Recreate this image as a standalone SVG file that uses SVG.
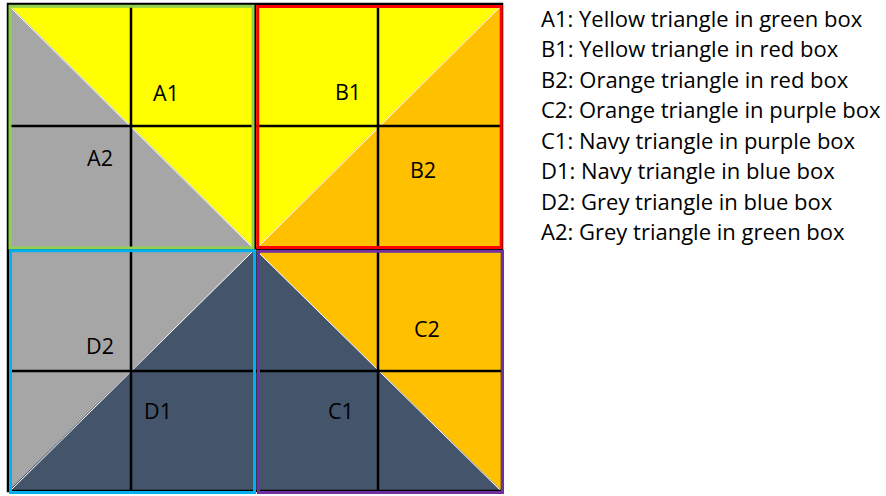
<svg xmlns="http://www.w3.org/2000/svg" width="886" height="496" viewBox="0 0 886 496">
<style>
.y{fill:#FFFF00}.g{fill:#A6A6A6}.o{fill:#FFC000}.n{fill:#44546A}
.diag{stroke:#FFFFFF;stroke-width:1;fill:none}
.grid{stroke:#000000;stroke-width:2.5;fill:none}
.box{fill:none;stroke-width:3}
.lbl{font-family:"Open Sans","Liberation Sans",sans-serif;font-size:21.5px;fill:#000000;text-anchor:middle}
.leg{font-family:"Open Sans","Liberation Sans",sans-serif;font-size:22px;fill:#000000}
</style>
<rect width="886" height="496" fill="#FFFFFF"/>
<g id="box-green">
<polygon class="y" points="8,4 255,4 255,249"/>
<polygon class="g" points="8,4 8,249 255,249"/>
<line class="diag" x1="11" y1="8" x2="253" y2="248"/>
</g>
<g id="box-red">
<polygon class="y" points="255,4 502,4 255,249"/>
<polygon class="o" points="502,4 502,249 255,249"/>
<line class="diag" x1="258" y1="247" x2="500" y2="7"/>
</g>
<g id="box-blue">
<polygon class="g" points="8,249 255,249 8,491"/>
<polygon class="n" points="255,249 255,491 8,491"/>
<line class="diag" x1="253" y1="251" x2="11" y2="490"/>
</g>
<g id="box-purple">
<polygon class="o" points="255,249 502,249 502,491"/>
<polygon class="n" points="255,249 255,491 502,491"/>
<line class="diag" x1="258" y1="252" x2="500" y2="490"/>
</g>
<g id="grid">
<rect class="grid" x="8" y="4" width="494" height="487"/>
<line class="grid" x1="131" y1="4" x2="131" y2="491"/>
<line class="grid" x1="255" y1="4" x2="255" y2="491"/>
<line class="grid" x1="378" y1="4" x2="378" y2="491"/>
<line class="grid" x1="8" y1="126" x2="502" y2="126"/>
<line class="grid" x1="8" y1="249" x2="502" y2="249"/>
<line class="grid" x1="8" y1="371" x2="502" y2="371"/>
</g>
<g id="borders">
<rect class="box" x="10" y="6.3" width="243" height="241.7" stroke="#92D050"/>
<rect class="box" x="257.7" y="6.5" width="243.5" height="241" stroke="#FF0000"/>
<rect class="box" x="10.5" y="250.7" width="244" height="241.8" stroke="#00B0F0"/>
<rect class="box" x="258.5" y="251.3" width="244" height="241.2" stroke="#7030A0"/>
</g>
<g id="labels">
<text class="lbl" x="166" y="100.5">A1</text>
<text class="lbl" x="100" y="165.5">A2</text>
<text class="lbl" x="348" y="99.5">B1</text>
<text class="lbl" x="423" y="177.5">B2</text>
<text class="lbl" x="427" y="336.5">C2</text>
<text class="lbl" x="341" y="418.5">C1</text>
<text class="lbl" x="100" y="353.5">D2</text>
<text class="lbl" x="158" y="418.5">D1</text>
</g>
<g id="legend">
<text class="leg" x="541" y="26.5">A1: Yellow triangle in green box</text>
<text class="leg" x="541" y="57">B1: Yellow triangle in red box</text>
<text class="leg" x="541" y="87.5">B2: Orange triangle in red box</text>
<text class="leg" x="541" y="118">C2: Orange triangle in purple box</text>
<text class="leg" x="541" y="148.5">C1: Navy triangle in purple box</text>
<text class="leg" x="541" y="179">D1: Navy triangle in blue box</text>
<text class="leg" x="541" y="209.5">D2: Grey triangle in blue box</text>
<text class="leg" x="541" y="240">A2: Grey triangle in green box</text>
</g>
</svg>
